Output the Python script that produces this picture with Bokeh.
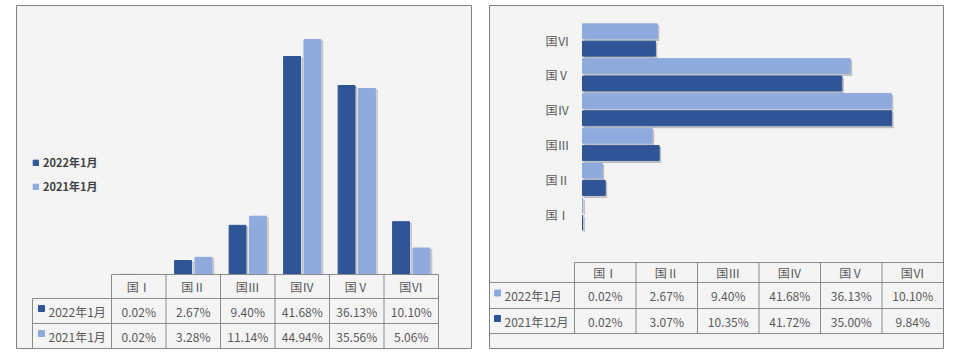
from bokeh.plotting import figure
from bokeh.layouts import row
from bokeh.models import Range1d, ColumnDataSource, Legend, LegendItem
from bokeh.embed import file_html
from bokeh.resources import INLINE
from bokeh.core.properties import value

# ---------------- data ----------------
categories = ["国Ⅰ", "国Ⅱ", "国Ⅲ", "国Ⅳ", "国Ⅴ", "国Ⅵ"]
left_series = ["2022年1月", "2021年1月"]
jan2022 = [0.02, 2.67, 9.40, 41.68, 36.13, 10.10]
jan2021 = [0.02, 3.28, 11.14, 44.94, 35.56, 5.06]
right_series = ["2022年1月", "2021年12月"]
dec2021 = [0.02, 3.07, 10.35, 41.72, 35.00, 9.84]

# ---------------- style ----------------
DARK = "#2f5597"
LIGHT = "#8faadc"
PANEL = "#f4f4f5"
BORDER = "#808080"
LINE = "#8a8a8a"
TXT = "#595959"
SHADOW = "#404040"
FONT = "Noto Sans CJK SC"
TXT_KW = dict(text_font=value(FONT), text_font_size="12px", text_color=TXT)


def fmt(v):
    return f"{v:.2f}%"


n = len(categories)
idx = list(range(n))

FY0, FY1 = 5, 348
FIG_H = 356

# ================= LEFT PANEL =================
LX0, LX1 = 16, 471
L_COL0, L_COLW, L_LAB_X0 = 111, 54.5, 32
L_BASE, L_PPP = 274, 5.23
L_ROWS = [274, 298, 323, 348]

lp = figure(width=480, height=FIG_H, output_backend="svg", toolbar_location=None,
            x_axis_location=None, y_axis_location=None,
            min_border_left=LX0, min_border_right=480 - LX1,
            min_border_top=FY0, min_border_bottom=FIG_H - FY1,
            x_range=Range1d((LX0 - L_COL0) / L_COLW - 0.5, (LX1 - L_COL0) / L_COLW - 0.5),
            y_range=Range1d(-(FY1 - L_BASE) / L_PPP, (L_BASE - FY0) / L_PPP))
lp.extra_x_ranges = {"px": Range1d(LX0, LX1)}
lp.extra_y_ranges = {"px": Range1d(FY1, FY0)}
lp.grid.visible = False
lp.background_fill_color = PANEL
lp.border_fill_color = "white"
lp.outline_line_color = BORDER
lp.outline_line_width = 1

off, bw = 0.187, 0.31
sh_x = 2.0 / L_COLW
sh_y = 1.5 / L_PPP
src_l = ColumnDataSource(dict(
    xd=[i - off for i in idx], xl=[i + off for i in idx],
    xds=[i - off + sh_x for i in idx], xls=[i + off + sh_x for i in idx],
    a=jan2022, b=jan2021,
    as_=[max(v - sh_y, 0) for v in jan2022], bs=[max(v - sh_y, 0) for v in jan2021]))
lp.vbar(x="xds", top="as_", bottom=0, width=bw, source=src_l,
        color=SHADOW, alpha=0.18)
lp.vbar(x="xls", top="bs", bottom=0, width=bw, source=src_l,
        color=SHADOW, alpha=0.18)
r1 = lp.vbar(x="xd", top="a", bottom=0, width=bw, source=src_l, color=DARK)
r2 = lp.vbar(x="xl", top="b", bottom=0, width=bw, source=src_l, color=LIGHT)

leg = Legend(items=[LegendItem(label=left_series[0], renderers=[r1]),
                    LegendItem(label=left_series[1], renderers=[r2])],
             location=(16, 154), padding=0, margin=0, spacing=8,
             glyph_width=7, glyph_height=7, label_height=14, label_standoff=4,
             border_line_color=None, background_fill_alpha=0,
             label_text_font=FONT, label_text_font_size="11px",
             label_text_font_style="bold", label_text_color="#404040")
lp.add_layout(leg)

# table lines
col_edges = [L_COL0 + k * L_COLW for k in range(n + 1)]
sx0, sy0, sx1, sy1 = [], [], [], []
sx0.append(L_COL0); sx1.append(col_edges[-1]); sy0.append(L_ROWS[0]); sy1.append(L_ROWS[0])
for yy in L_ROWS[1:]:
    sx0.append(L_LAB_X0); sx1.append(col_edges[-1]); sy0.append(yy); sy1.append(yy)
sx0.append(L_LAB_X0); sx1.append(L_LAB_X0); sy0.append(L_ROWS[1]); sy1.append(L_ROWS[-1])
for xe in col_edges:
    sx0.append(xe); sx1.append(xe); sy0.append(L_ROWS[0]); sy1.append(L_ROWS[-1])
lp.segment(x0=sx0, y0=sy0, x1=sx1, y1=sy1, line_color=LINE, line_width=1,
           x_range_name="px", y_range_name="px")

mid = [(L_ROWS[k] + L_ROWS[k + 1]) / 2 for k in range(3)]
lp.text(x=idx, y=[mid[0]] * n, text=categories, y_range_name="px",
        text_align="center", text_baseline="middle", **TXT_KW)
lp.text(x=idx, y=[mid[1]] * n, text=[fmt(v) for v in jan2022], y_range_name="px",
        text_align="center", text_baseline="middle", **TXT_KW)
lp.text(x=idx, y=[mid[2]] * n, text=[fmt(v) for v in jan2021], y_range_name="px",
        text_align="center", text_baseline="middle", **TXT_KW)
lp.scatter(x=[L_LAB_X0 + 9] * 2, y=[mid[1] - 2.5, mid[2] - 2.5], marker="square",
           size=6, color=[DARK, LIGHT], x_range_name="px", y_range_name="px")
lp.text(x=[L_LAB_X0 + 16] * 2, y=[mid[1], mid[2]], text=left_series,
        x_range_name="px", y_range_name="px",
        text_align="left", text_baseline="middle", **TXT_KW)

# ================= RIGHT PANEL =================
R_OFF = 480
RX0, RX1 = 489, 943
R_W = 478
R_BASE, R_PPP = 582, 7.41
R_CAT0, R_CATH = 213.5, 34.8
R_COL0, R_COLW = 574, 61.5
R_ROWS = [262, 282, 308, 333]

rp = figure(width=R_W, height=FIG_H, output_backend="svg", toolbar_location=None,
            x_axis_location=None, y_axis_location=None,
            min_border_left=RX0 - R_OFF, min_border_right=R_OFF + R_W - RX1,
            min_border_top=FY0, min_border_bottom=FIG_H - FY1,
            x_range=Range1d((RX0 - R_BASE) / R_PPP, (RX1 - R_BASE) / R_PPP),
            y_range=Range1d((R_CAT0 - FY1) / R_CATH, (R_CAT0 - FY0) / R_CATH))
rp.extra_x_ranges = {"px": Range1d(RX0, RX1)}
rp.extra_y_ranges = {"px": Range1d(FY1, FY0)}
rp.grid.visible = False
rp.background_fill_color = PANEL
rp.border_fill_color = "white"
rp.outline_line_color = BORDER
rp.outline_line_width = 1

hoff, bh = 0.25, 0.43
rsh_x = 1.5 / R_PPP
rsh_y = 2.0 / R_CATH
src_r = ColumnDataSource(dict(
    yl=[i + hoff for i in idx], yd=[i - hoff for i in idx],
    yls=[i + hoff - rsh_y for i in idx], yds=[i - hoff - rsh_y for i in idx],
    a=jan2022, b=dec2021,
    as_=[v + rsh_x for v in jan2022], bs=[v + rsh_x for v in dec2021]))
rp.hbar(y="yls", right="as_", left=rsh_x, height=bh, source=src_r,
        color=SHADOW, alpha=0.22)
rp.hbar(y="yds", right="bs", left=rsh_x, height=bh, source=src_r,
        color=SHADOW, alpha=0.22)
rp.hbar(y="yl", right="a", left=0, height=bh, source=src_r, color=LIGHT)
rp.hbar(y="yd", right="b", left=0, height=bh, source=src_r, color=DARK)

rp.text(x=[545] * n, y=idx, text=categories, x_range_name="px",
        text_align="left", text_baseline="middle", **TXT_KW)

rcol_edges = [R_COL0 + k * R_COLW for k in range(n + 1)]
tx0, ty0, tx1, ty1 = [], [], [], []
tx0.append(R_COL0); tx1.append(RX1); ty0.append(R_ROWS[0]); ty1.append(R_ROWS[0])
for yy in R_ROWS[1:]:
    tx0.append(RX0); tx1.append(RX1); ty0.append(yy); ty1.append(yy)
for xe in rcol_edges:
    tx0.append(xe); tx1.append(xe); ty0.append(R_ROWS[0]); ty1.append(R_ROWS[-1])
rp.segment(x0=tx0, y0=ty0, x1=tx1, y1=ty1, line_color=LINE, line_width=1,
           x_range_name="px", y_range_name="px")

rmid = [(R_ROWS[k] + R_ROWS[k + 1]) / 2 for k in range(3)]
rcx = [R_COL0 + (i + 0.5) * R_COLW for i in idx]
rp.text(x=rcx, y=[rmid[0]] * n, text=categories, x_range_name="px", y_range_name="px",
        text_align="center", text_baseline="middle", **TXT_KW)
rp.text(x=rcx, y=[rmid[1]] * n, text=[fmt(v) for v in jan2022], x_range_name="px",
        y_range_name="px", text_align="center", text_baseline="middle", **TXT_KW)
rp.text(x=rcx, y=[rmid[2]] * n, text=[fmt(v) for v in dec2021], x_range_name="px",
        y_range_name="px", text_align="center", text_baseline="middle", **TXT_KW)
rp.scatter(x=[RX0 + 8] * 2, y=[rmid[1] - 2.5, rmid[2] - 2.5], marker="square",
           size=6, color=[LIGHT, DARK], x_range_name="px", y_range_name="px")
rp.text(x=[RX0 + 15] * 2, y=[rmid[1], rmid[2]], text=right_series,
        x_range_name="px", y_range_name="px",
        text_align="left", text_baseline="middle", **TXT_KW)

layout = row(lp, rp)
open("out.html", "w").write(file_html(layout, INLINE))
